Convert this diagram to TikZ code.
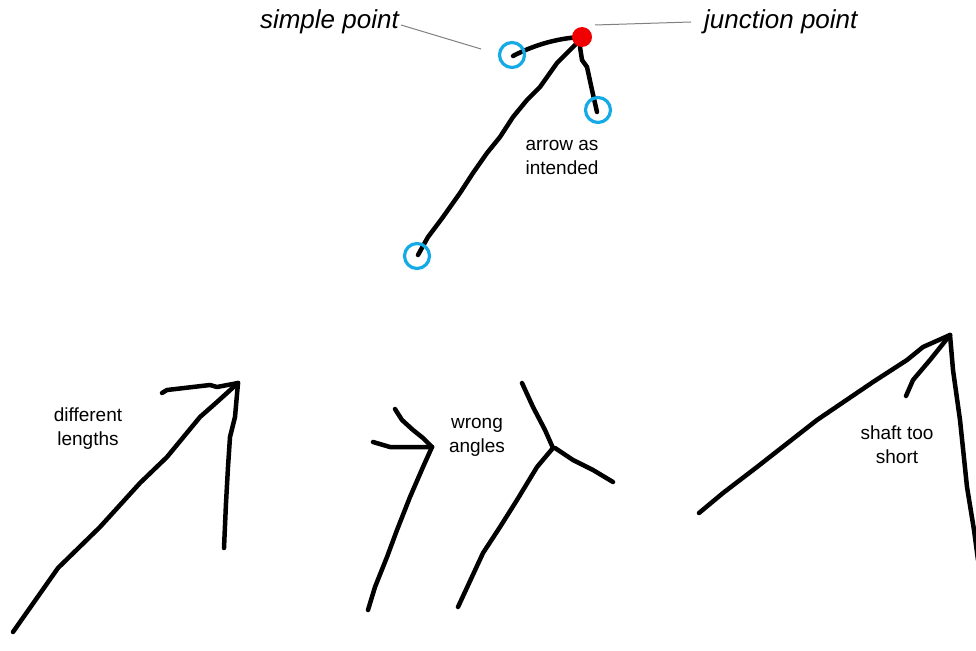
\documentclass[tikz,border=0pt]{standalone}
\usepackage{fontspec}
\setmainfont{Liberation Sans}
\definecolor{ptblue}{RGB}{20,170,230}
\definecolor{ptred}{RGB}{240,0,0}
\begin{document}
\begin{tikzpicture}[x=1pt,y=-1pt,
  stroke/.style={line width=4.5pt,line cap=round,line join=round,black},
  leader/.style={line width=1pt,gray},
  endpt/.style={circle,draw=ptblue,line width=3.2pt,minimum size=25pt,inner sep=0pt},
  junct/.style={circle,fill=ptred,minimum size=20pt,inner sep=0pt},
  biglabel/.style={font=\fontsize{26}{30}\selectfont\itshape,inner sep=0pt},
  smalllabel/.style={font=\fontsize{19}{24}\selectfont,align=center,inner sep=0pt}]
\useasboundingbox (0,0) rectangle (976,650);
% top: arrow as intended
\draw[stroke] (513,56) .. controls (530,47) and (555,38) .. (582,37);
\draw[stroke] (582,37) -- (580,47) -- (582,60) -- (587,67) -- (592,90) -- (597,112);
\draw[stroke] (582,37) -- (575,45) -- (557,63) -- (540,87) -- (527,100) -- (513,117) -- (500,137) -- (487,153) -- (473,173) -- (460,193) -- (443,217) -- (428,237) -- (418,255);
\node[endpt] (sp) at (512,55) {};
\node[endpt] (e2) at (598,110) {};
\node[endpt] (e3) at (417,256) {};
\node[junct] (jp) at (582,37) {};
\node[biglabel,anchor=east] (splab) at (399,22) {simple point};
\node[biglabel,anchor=west] (jplab) at (704,22) {junction point};
\coordinate (spl1) at (401,25);
\coordinate (spl2) at (481,49);
\coordinate (jpl1) at (595,25);
\coordinate (jpl2) at (691,22);
\draw[leader] (spl1) -- (spl2);
\draw[leader] (jpl1) -- (jpl2);
\node[smalllabel] (t1) at (562,157) {arrow as\\intended};
% bottom left: different lengths
\draw[stroke] (13,632) -- (58,568) -- (100,527) -- (140,483) -- (167,457) -- (200,417) -- (217,402) -- (238,383);
\draw[stroke] (162,393) -- (167,390) -- (210,385) -- (217,387) -- (238,383);
\draw[stroke] (238,383) -- (235,417) -- (230,437) -- (228,467) -- (226,503) -- (224,548);
\node[smalllabel] (t2) at (88,429) {different\\lengths};
% middle: wrong angles
\draw[stroke] (395,409) -- (402,420) -- (413,430) -- (423,438) -- (432,447);
\draw[stroke] (373,442) -- (390,447) -- (432,447);
\draw[stroke] (432,447) -- (423,467) -- (410,497) -- (397,530) -- (387,557) -- (375,587) -- (368,610);
\draw[stroke] (522,383) -- (533,407) -- (545,430) -- (553,448);
\draw[stroke] (555,448) -- (573,460) -- (593,470) -- (613,482);
\draw[stroke] (553,448) -- (537,467) -- (517,500) -- (500,527) -- (483,553) -- (458,607);
\node[smalllabel] (t3) at (477,437) {wrong\\angles};
% right: shaft too short
\draw[stroke] (699,513) -- (723,493) -- (757,467) -- (817,420) -- (873,382) -- (907,360) -- (923,347) -- (950,335);
\draw[stroke] (906,396) -- (913,380) -- (930,360) -- (950,335);
\draw[stroke] (950,335) -- (953,370) -- (960,420) -- (967,487) -- (974,530) -- (978,560);
\node[smalllabel] (t4) at (897,445) {shaft too\\short};
\end{tikzpicture}
\end{document}
